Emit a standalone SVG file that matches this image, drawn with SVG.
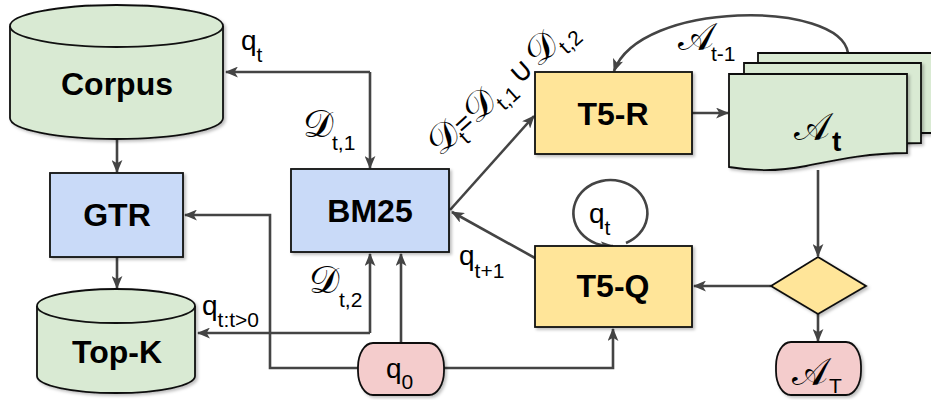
<svg xmlns="http://www.w3.org/2000/svg" width="931" height="400" viewBox="0 0 931 400">
<defs>
<marker id="ah" viewBox="0 0 12 10" refX="11" refY="5" markerWidth="13" markerHeight="11" markerUnits="userSpaceOnUse" orient="auto-start-reverse">
<path d="M0,0 L12,5 L0,10 L3,5 Z" fill="#444"/>
</marker>
<filter id="sh" x="-10%" y="-10%" width="130%" height="130%">
<feDropShadow dx="2" dy="2" stdDeviation="1.5" flood-color="#000" flood-opacity="0.25"/>
</filter>
</defs>
<style>
.n{stroke:#111;stroke-width:1.8;filter:url(#sh)}
.g{fill:#d9ead3}
.b{fill:#c9daf8}
.y{fill:#ffe599}
.p{fill:#f4cccc}
.c{fill:none;stroke:#444;stroke-width:2.6}
.a{marker-end:url(#ah)}
.bt{font-family:"Liberation Sans",Arial,sans-serif;font-weight:bold;font-size:32px;fill:#000;text-anchor:middle}
.lb{font-family:"Liberation Sans",Arial,sans-serif;font-size:28px;fill:#000}
.s{font-size:21px}
.m{font-family:"DejaVu Serif","Liberation Serif",serif;font-size:38px;fill:#000}
.u{font-family:"DejaVu Sans",sans-serif;font-size:30px}
</style>

<g id="connectors">
<path class="c a" d="M370,72 H226" />
<path class="c a" d="M370,72 V168" />
<path class="c a" d="M117,140 V172" />
<path class="c a" d="M117,257 V288" />
<path class="c a" d="M370,333 H198" />
<path class="c a" d="M370,333 V254" />
<path class="c a" d="M401,343 V254" />
<path class="c a" d="M358,368 H270 V215 H185" />
<path class="c a" d="M444,368 H613 V329" />
<path class="c a" d="M450,210 L534,116" />
<path class="c a" d="M535,258 L452,212" />
<path class="c a" d="M692,113 H728" />
<path class="c a" d="M848,53 C840,0 640,0 614,71" />
<path class="c a" d="M818,170 V256" />
<path class="c a" d="M771,286 H694" />
<path class="c a" d="M818,314 V341" />
<path class="c a" d="M626,243 A37,33 0 1 0 613,246" />
</g>

<g id="corpus">
<path class="n g" d="M10,26 A106.5,21 0 0 1 223,26 V118 A106.5,21 0 0 1 10,118 Z"/>
<path d="M10,26 A106.5,21 0 0 0 223,26" fill="none" stroke="#111" stroke-width="1.8"/>
<text class="bt" x="117" y="95">Corpus</text>
</g>

<g id="gtr">
<rect class="n b" x="50" y="173" width="133" height="84"/>
<text class="bt" x="117" y="226">GTR</text>
</g>

<g id="topk">
<path class="n g" d="M37,306 A79,17 0 0 1 195,306 V376 A79,17 0 0 1 37,376 Z"/>
<path d="M37,306 A79,17 0 0 0 195,306" fill="none" stroke="#111" stroke-width="1.8"/>
<text class="bt" x="117" y="363">Top-K</text>
</g>

<g id="bm25">
<rect class="n b" x="291" y="169" width="158" height="83"/>
<text class="bt" x="370" y="222">BM25</text>
</g>

<g id="t5r">
<rect class="n y" x="535" y="72" width="157" height="82"/>
<text class="bt" x="613" y="125">T5-R</text>
</g>

<g id="t5q">
<rect class="n y" x="535" y="246" width="157" height="81"/>
<text class="bt" x="613" y="297">T5-Q</text>
</g>

<g id="q0">
<rect class="n p" x="358" y="343" width="86" height="52" rx="15" ry="24"/>
<text class="lb" x="386" y="378">q<tspan class="s" dy="11">0</tspan></text>
</g>

<g id="at">
<path class="n g" d="M758,53 H950 V133 H758 Z"/>
<path class="n g" d="M744,63 H921 V143 C880,143 850,150 820,156 C790,162 765,160 744,156 Z"/>
<path class="n g" d="M729,74 H907 V153 C866,153 836,160 806,166 C776,172 752,171 729,167 Z"/>
<text class="m" x="794" y="140">𝒜</text>
<text class="lb" x="832" y="151" font-weight="bold" font-size="24">t</text>
</g>

<g id="decision">
<path class="n y" d="M818,257 L866,286 L818,314 L771,286 Z"/>
</g>

<g id="aT">
<rect class="n p" x="776" y="342" width="85" height="53" rx="15" ry="24"/>
<text class="m" x="792" y="385">𝒜</text>
<text class="lb s" x="829" y="393">T</text>
</g>

<g id="labels">
<text class="lb" x="241" y="50">q<tspan class="s" dy="12">t</tspan></text>
<text class="m" x="303" y="137">𝒟</text>
<text class="lb s" x="332" y="150">t,1</text>
<text class="m" x="309" y="293">𝒟</text>
<text class="lb s" x="339" y="307">t,2</text>
<text class="lb" x="202" y="315">q<tspan class="s" dy="12">t:t&gt;0</tspan></text>
<text class="lb" x="459" y="265">q<tspan class="s" dy="13">t+1</tspan></text>
<text class="lb" x="589" y="223">q<tspan class="s" dy="12">t</tspan></text>
<text class="m" x="678" y="50">𝒜</text>
<text class="lb s" x="711" y="61">t-1</text>
<g transform="translate(440,157) rotate(-42)">
<text class="m" x="0" y="0" font-size="34">𝒟<tspan class="lb s" dy="9" dx="-2">t</tspan><tspan class="lb" dy="-9" dx="-2" font-size="30">=</tspan><tspan>𝒟</tspan><tspan class="lb s" dy="9">t,1</tspan><tspan class="u" dy="-9" dx="5">∪</tspan><tspan dx="4">𝒟</tspan><tspan class="lb s" dy="9">t,2</tspan></text>
</g>
</g>
</svg>
